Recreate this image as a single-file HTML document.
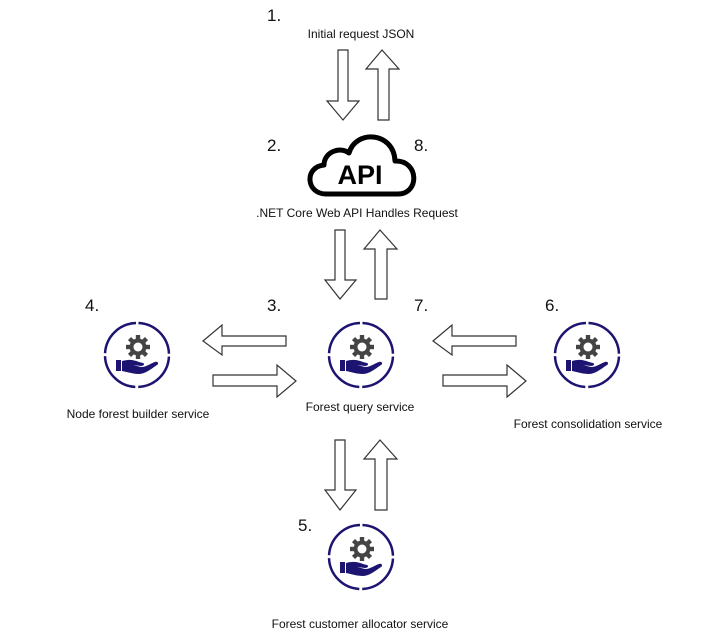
<!DOCTYPE html>
<html><head><meta charset="utf-8"><style>
html,body{margin:0;padding:0;background:#fff;}
svg{display:block;}
text{font-family:"Liberation Sans",Arial,sans-serif;fill:#111;}
.n{font-size:17px;}
.l{font-size:12px;}
</style></head><body>
<svg width="728" height="641" viewBox="0 0 728 641" xmlns="http://www.w3.org/2000/svg">
<defs>
<g id="ic">
  <circle cx="0" cy="0" r="32" fill="none" stroke="#1c1470" stroke-width="2.5" stroke-dasharray="47.3 3"  stroke-dashoffset="-1.5" transform="rotate(-90)"/>
  <g fill="#444">
    <circle cx="1" cy="-8" r="8.5"/>
    <g transform="translate(1,-8)">
      <rect x="-2.2" y="-12" width="4.4" height="24"/>
      <rect x="-2.2" y="-12" width="4.4" height="24" transform="rotate(45)"/>
      <rect x="-2.2" y="-12" width="4.4" height="24" transform="rotate(90)"/>
      <rect x="-2.2" y="-12" width="4.4" height="24" transform="rotate(135)"/>
    </g>
  </g>
  <circle cx="1" cy="-8" r="4.5" fill="#fff"/>
  <path d="M-21 5 h5 v11 h-5z M-15 6 C-8 4 -3 5 2 7 L6 8 C8 9 7 11 4 11 L-4 10 L4 12 C10 12 14 8 18 7 C21 6 22 9 20 10 C14 14 8 19 2 19 C-4 19 -10 17 -15 16z" fill="#1c1470"/>
</g>
</defs>
<g fill="#fff" stroke="#333" stroke-width="1.2">
  <!-- top pair -->
  <path d="M338 50 H348 V101 H359 L343 120 L327 101 H338 Z"/>
  <path d="M382 50 L399 69 H389 V120 H378 V69 H366 Z"/>
  <!-- second pair -->
  <path d="M335 230 H345 V280 H356 L340 299 L325 280 H335 Z"/>
  <path d="M380 230 L397 249 H387 V299 H375 V249 H364 Z"/>
  <!-- bottom pair -->
  <path d="M335 440 H345 V490 H356 L340 510 L325 490 H335 Z"/>
  <path d="M380 440 L397 459 H387 V510 H375 V459 H364 Z"/>
  <!-- left horizontal -->
  <path d="M203 341 L222 325 V336 H286 V346 H222 V355 Z"/>
  <path d="M213 375 H277 V365 L296 381 L277 397 V386 H213 Z"/>
  <!-- right horizontal -->
  <path d="M433 341 L452 325 V336 H516 V346 H452 V355 Z"/>
  <path d="M443 375 H507 V365 L526 381 L507 397 V386 H443 Z"/>
</g>
<path d="M326 194 C306 194 304 167 324 165 C324 152 340 146 349 153 C356 129 394 132 395 161 C419 160 420 194 398 194 Z" fill="#fff" stroke="#000" stroke-width="5" stroke-linejoin="round"/>
<text x="360" y="184" text-anchor="middle" style="font-size:27px;font-weight:bold;fill:#000">API</text>
<use href="#ic" x="137" y="355"/>
<use href="#ic" x="361" y="355"/>
<use href="#ic" x="587" y="355"/>
<use href="#ic" x="361" y="557"/>
<text class="n" x="267" y="21">1.</text>
<text class="n" x="267" y="151">2.</text>
<text class="n" x="414" y="151">8.</text>
<text class="n" x="85" y="311">4.</text>
<text class="n" x="267" y="311">3.</text>
<text class="n" x="414" y="311">7.</text>
<text class="n" x="545" y="311">6.</text>
<text class="n" x="298" y="531">5.</text>
<text class="l" x="361" y="38" text-anchor="middle">Initial request JSON</text>
<text class="l" x="357" y="217" text-anchor="middle">.NET Core Web API Handles Request</text>
<text class="l" x="138" y="418" text-anchor="middle">Node forest builder service</text>
<text class="l" x="360" y="411" text-anchor="middle">Forest query service</text>
<text class="l" x="588" y="428" text-anchor="middle">Forest consolidation service</text>
<text class="l" x="360" y="628" text-anchor="middle">Forest customer allocator service</text>
</svg>
</body></html>
